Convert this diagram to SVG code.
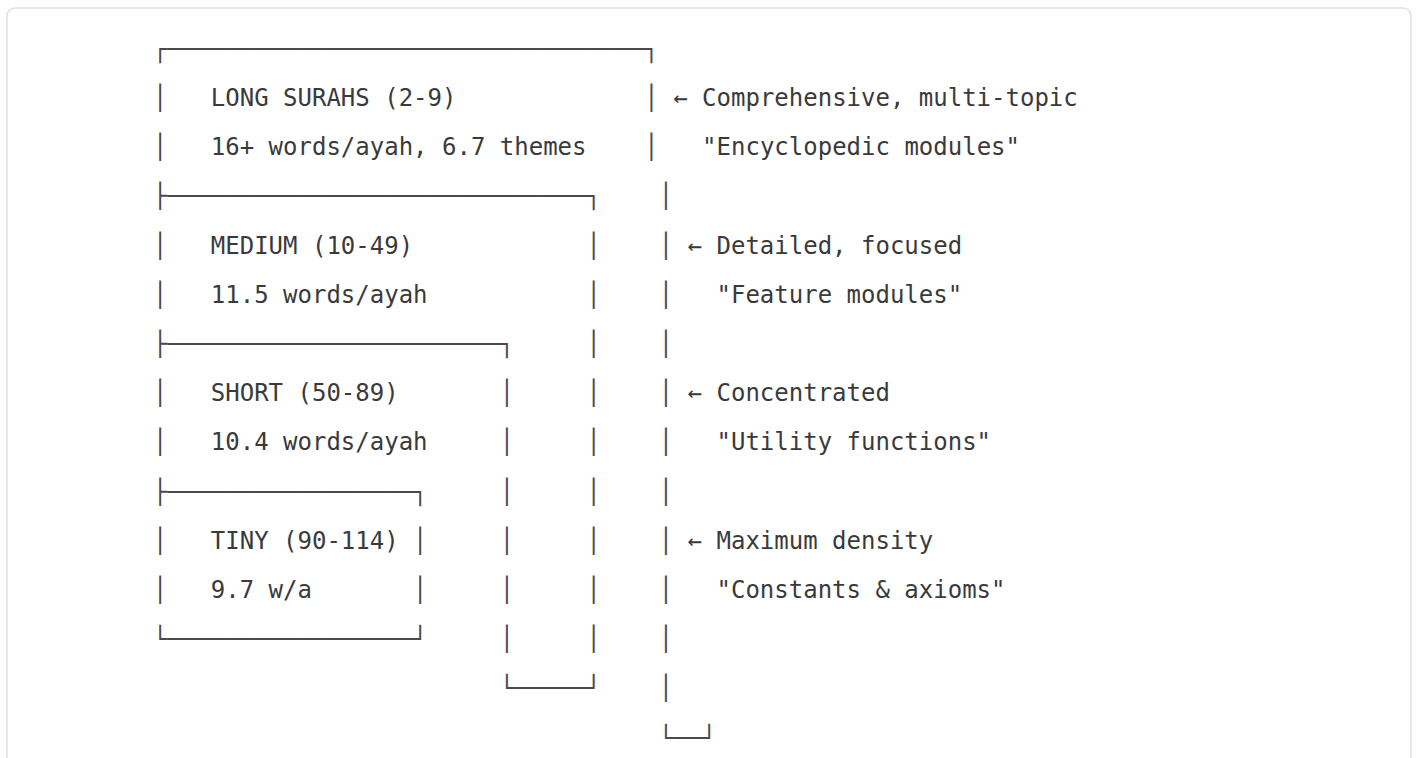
<svg xmlns="http://www.w3.org/2000/svg" width="1416" height="758" viewBox="0 0 1416 758">
<style>
text{font-family:"DejaVu Sans Mono","Liberation Mono",monospace;font-size:24px;fill:#3a3a3a}
.box{fill:#4a4a4a}
</style>
<rect x="0" y="0" width="1416" height="758" fill="#ffffff"/>
<rect x="7" y="8" width="1404" height="800" rx="8" fill="#ffffff" stroke="#e2e2e2" stroke-width="1.6"/>
<g id="connectors">
<text class="box" x="153" y="56.8">┌─────────────────────────────────┐</text>
<text class="box" x="153" y="106">│</text><text class="box" x="644.27" y="106">│</text>
<text class="box" x="153" y="155.2">│</text><text class="box" x="644.27" y="155.2">│</text>
<text class="box" x="153" y="204.4">├─────────────────────────────┐</text><text class="box" x="658.72" y="204.4">│</text>
<text class="box" x="153" y="253.6">│</text><text class="box" x="586.47" y="253.6">│</text><text class="box" x="658.72" y="253.6">│</text>
<text class="box" x="153" y="302.8">│</text><text class="box" x="586.47" y="302.8">│</text><text class="box" x="658.72" y="302.8">│</text>
<text class="box" x="153" y="352">├───────────────────────┐</text><text class="box" x="586.47" y="352">│</text><text class="box" x="658.72" y="352">│</text>
<text class="box" x="153" y="401.2">│</text><text class="box" x="499.78" y="401.2">│</text><text class="box" x="586.47" y="401.2">│</text><text class="box" x="658.72" y="401.2">│</text>
<text class="box" x="153" y="450.4">│</text><text class="box" x="499.78" y="450.4">│</text><text class="box" x="586.47" y="450.4">│</text><text class="box" x="658.72" y="450.4">│</text>
<text class="box" x="153" y="499.6">├─────────────────┐</text><text class="box" x="499.78" y="499.6">│</text><text class="box" x="586.47" y="499.6">│</text><text class="box" x="658.72" y="499.6">│</text>
<text class="box" x="153" y="548.8">│</text><text class="box" x="413.08" y="548.8">│</text><text class="box" x="499.78" y="548.8">│</text><text class="box" x="586.47" y="548.8">│</text><text class="box" x="658.72" y="548.8">│</text>
<text class="box" x="153" y="598">│</text><text class="box" x="413.08" y="598">│</text><text class="box" x="499.78" y="598">│</text><text class="box" x="586.47" y="598">│</text><text class="box" x="658.72" y="598">│</text>
<text class="box" x="153" y="647.2">└─────────────────┘</text><text class="box" x="499.78" y="647.2">│</text><text class="box" x="586.47" y="647.2">│</text><text class="box" x="658.72" y="647.2">│</text>
<text class="box" x="499.78" y="696.4">└─────┘</text><text class="box" x="658.72" y="696.4">│</text>
<text class="box" x="658.72" y="745.6">└──┘</text>
</g>
<g id="long">
<text x="210.8" y="106">LONG SURAHS (2-9)</text>
<text x="210.8" y="155.2">16+ words/ayah, 6.7 themes</text>
</g>
<g id="medium">
<text x="210.8" y="253.6">MEDIUM (10-49)</text>
<text x="210.8" y="302.8">11.5 words/ayah</text>
</g>
<g id="short">
<text x="210.8" y="401.2">SHORT (50-89)</text>
<text x="210.8" y="450.4">10.4 words/ayah</text>
</g>
<g id="tiny">
<text x="210.8" y="548.8">TINY (90-114)</text>
<text x="210.8" y="598">9.7 w/a</text>
</g>
<g id="note-long">
<text x="673.2" y="106">← Comprehensive, multi-topic</text>
<text x="702.1" y="155.2">"Encyclopedic modules"</text>
</g>
<g id="note-medium">
<text x="687.6" y="253.6">← Detailed, focused</text>
<text x="716.5" y="302.8">"Feature modules"</text>
</g>
<g id="note-short">
<text x="687.6" y="401.2">← Concentrated</text>
<text x="716.5" y="450.4">"Utility functions"</text>
</g>
<g id="note-tiny">
<text x="687.6" y="548.8">← Maximum density</text>
<text x="716.5" y="598">"Constants &amp; axioms"</text>
</g>
</svg>
